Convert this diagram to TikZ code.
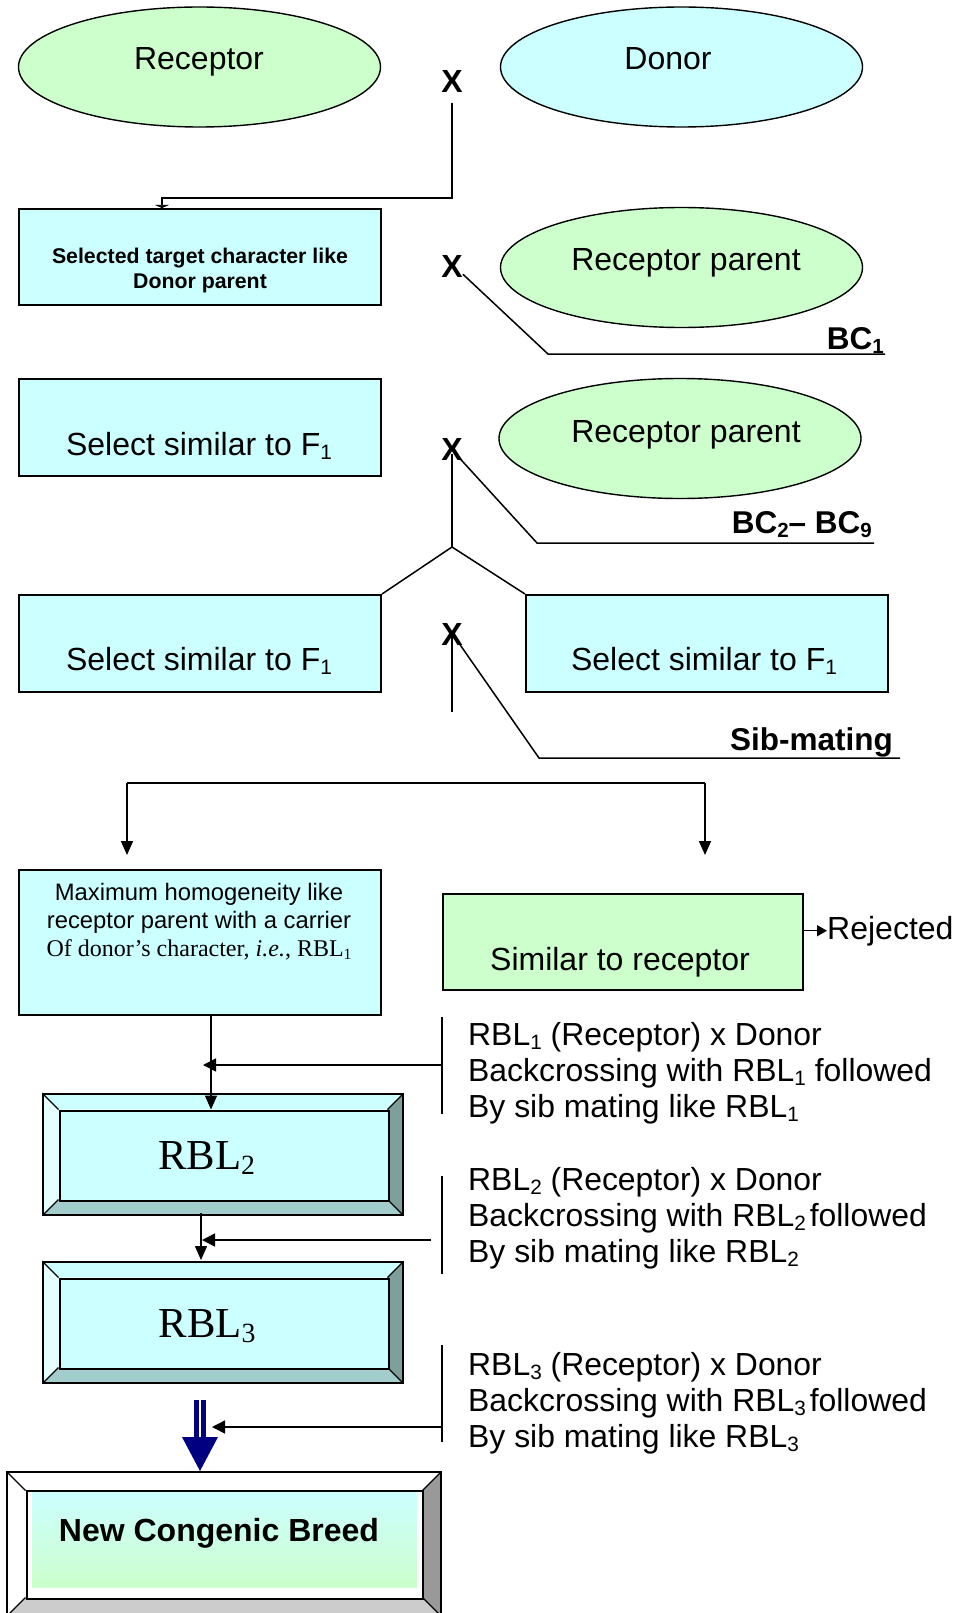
\documentclass[tikz,border=0pt]{standalone}
\usepackage{fontspec}
\usepackage{graphicx}
\usetikzlibrary{arrows.meta,shapes.geometric}
\newfontfamily\ar{Liberation Sans}
\newfontfamily\tm{Liberation Serif}
\newcommand\fBig{\ar\fontsize{32}{36.8}\selectfont}
\newcommand\fBigB{\ar\bfseries\fontsize{31.5}{36}\selectfont}
\newcommand\fX{\ar\bfseries\fontsize{32}{36}\selectfont}
\newcommand\fSmB{\ar\bfseries\fontsize{21.3}{24.5}\selectfont}
\newcommand\fMid{\ar\fontsize{23.8}{27.3}\selectfont}
\newcommand\fMidT{\tm\fontsize{24}{27.6}\selectfont}
\newcommand\fRBL{\tm\fontsize{42.7}{49}\selectfont}
\newcommand\fSide{\ar\fontsize{31.9}{36}\selectfont}
\newcommand\sbs[1]{\raisebox{-0.14em}{\scalebox{0.65}{#1}}}
\definecolor{lgreen}{HTML}{CCFFCC}
\definecolor{lcyan}{HTML}{CCFFFF}
\definecolor{bevleft}{HTML}{E5FFFF}
\definecolor{bevright}{HTML}{7F9F9C}
\definecolor{bevbot}{HTML}{A3CCCC}
\definecolor{gbevright}{HTML}{999999}
\definecolor{gbevbot}{HTML}{CCCCCC}
\definecolor{navyblue}{HTML}{000080}
% bevel frame: x1,y1,x2,y2,b,top,left,right,bottom
\newcommand\bevelframe[9]{%
 \fill[#6] (#1,#2) -- (#3,#2) -- ({#3-#5},{#2+#5}) -- ({#1+#5},{#2+#5}) -- cycle;
 \fill[#7] (#1,#2) -- ({#1+#5},{#2+#5}) -- ({#1+#5},{#4-#5}) -- (#1,#4) -- cycle;
 \fill[#8] (#3,#2) -- (#3,#4) -- ({#3-#5},{#4-#5}) -- ({#3-#5},{#2+#5}) -- cycle;
 \fill[#9] (#1,#4) -- (#3,#4) -- ({#3-#5},{#4-#5}) -- ({#1+#5},{#4-#5}) -- cycle;
 \draw[line width=1.3pt] (#1,#2) -- ({#1+#5},{#2+#5}) (#3,#2) -- ({#3-#5},{#2+#5})
   (#3,#4) -- ({#3-#5},{#4-#5}) (#1,#4) -- ({#1+#5},{#4-#5});
 \draw[line width=2pt] (#1,#2) rectangle (#3,#4);
}
\begin{document}
\begin{tikzpicture}[x=1pt,y=-1pt,
  oval/.style={ellipse, draw, line width=1.4pt, inner sep=0pt, minimum width=362pt, minimum height=120pt},
  cbox/.style={rectangle, draw, line width=2pt, fill=lcyan, inner sep=0pt, anchor=north west},
  txt/.style={inner sep=0pt, anchor=base},
  conn/.style={line width=1.5pt},
  arr/.style={line width=1.5pt, -{Triangle[length=14pt,width=12pt]}},
  harr/.style={line width=1.5pt, -{Triangle[length=13pt,width=13pt]}},
]
\useasboundingbox (0,0) rectangle (955,1613);
\fill[white] (0,0) rectangle (955,1613);

% --- top parents
\node[oval, fill=lgreen] (rec) at (199.5,67) {};
\node[txt, font=\fBig] (rect) at (199,70) {Receptor};
\node[oval, fill=lcyan] (don) at (681.5,67) {};
\node[txt, font=\fBig] (dont) at (668,70) {Donor};
\node[txt, font=\fX] (x1) at (452,93) {X};

% --- F1 box
\node[cbox, minimum width=362pt, minimum height=96pt] (b1) at (18,208) {};
\node[txt, font=\fSmB] (b1a) at (200,263) {Selected target character like};
\node[txt, font=\fSmB] (b1b) at (200,288) {Donor parent};
\coordinate (k1) at (162,198);
\draw[conn, -{Triangle[length=3pt,width=14pt]}] ([yshift=-10pt]x1.base) |- (k1) -- (k1 |- b1.north);

% --- BC1
\node[txt, font=\fX] (x2) at (452,277) {X};
\node[oval, fill=lgreen] (rp1) at (681.5,267.5) {};
\node[txt, font=\fBig] (rp1t) at (686,270.5) {Receptor parent};
\coordinate (bc1a) at (548,354);
\coordinate (bc1b) at (885,354);
\draw[conn] ([yshift=3pt]x2.south east) -- (bc1a) -- (bc1b);
\node[txt, anchor=base east, font=\fBigB] (bc1) at (884,349) {BC\sbs{1}};

% --- BC2-BC9
\node[cbox, minimum width=362pt, minimum height=97pt] (s1) at (18,378) {};
\node[txt, font=\fBig] (s1t) at (199,455) {Select similar to F\sbs{1}};
\node[oval, fill=lgreen] (rp2) at (680,438.5) {};
\node[txt, font=\fBig] (rp2t) at (686,442) {Receptor parent};
\node[txt, font=\fX] (x3) at (452,460) {X};
\coordinate (bc2a) at (537,543);
\coordinate (bc2b) at (874,543);
\draw[conn] ([xshift=-6pt,yshift=5pt]x3.south east) -- (bc2a) -- (bc2b);
\node[txt, anchor=base east, font=\fBigB] (bc2) at (872,533) {BC\sbs{2}– BC\sbs{9}};

\node[cbox, minimum width=362pt, minimum height=97pt] (s2) at (18,594) {};
\node[txt, font=\fBig] (s2t) at (199,670) {Select similar to F\sbs{1}};
\node[cbox, minimum width=362pt, minimum height=97pt] (s3) at (525,594) {};
\node[txt, font=\fBig] (s3t) at (704,670) {Select similar to F\sbs{1}};
\coordinate (br) at (452,547);
\draw[conn] ([yshift=6pt]x3.south) -- (br);
\draw[conn] (s2.north east) -- (br) -- (s3.north west);

% --- sib mating
\node[txt, font=\fX] (x4) at (452,645) {X};
\coordinate (x4b) at (452,712);
\draw[conn] ([yshift=10pt]x4.south) -- (x4b);
\coordinate (sma) at (539,758);
\coordinate (smb) at (900,758);
\draw[conn] ([xshift=-6pt,yshift=5pt]x4.south east) -- (sma) -- (smb);
\node[txt, anchor=base east, font=\fBigB] (sm) at (893,750) {Sib-mating};

% --- split
\coordinate (dl) at (127,783);
\coordinate (dr) at (705,783);
\coordinate (dle) at (127,855);
\coordinate (dre) at (705,855);
\draw[conn] (dl) -- (dr);
\draw[arr] (dl) -- (dle);
\draw[arr] (dr) -- (dre);

\node[cbox, minimum width=362pt, minimum height=145pt] (m) at (18,869) {};
\node[txt, font=\fMid] (m1) at (199,900) {Maximum homogeneity like};
\node[txt, font=\fMid] (m2) at (199,928) {receptor parent with a carrier};
\node[txt, font=\fMidT] (m3) at (199,956) {Of donor’s character, \textit{i.e.}, RBL\sbs{1}};

\node[cbox, fill=lgreen, minimum width=360pt, minimum height=96pt] (g) at (442,893) {};
\node[txt, font=\fBig] (gt) at (620,970) {Similar to receptor};
\node[txt, anchor=base west, font=\fBig] (rej) at (827,939) {Rejected};
\draw[line width=1.5pt, -{Triangle[length=10pt,width=11pt]}] (g.east |- rej.west) -- (rej.west);

% --- RBL boxes
\bevelframe{43}{1094}{403}{1215}{15.5}{lcyan}{bevleft}{bevright}{bevbot}
\node[cbox, minimum width=329pt, minimum height=90pt] (r2) at (58.5,1109.5) {};
\node[txt, font=\fRBL] (r2t) at (206.5,1169) {RBL\sbs{2}};

\bevelframe{43}{1262}{403}{1383}{15.5}{lcyan}{bevleft}{bevright}{bevbot}
\node[cbox, minimum width=329pt, minimum height=90pt] (r3) at (58.5,1277.5) {};
\node[txt, font=\fRBL] (r3t) at (207,1337) {RBL\sbs{3}};

% --- New congenic breed
\bevelframe{7}{1472}{441}{1616}{18.5}{white}{white}{gbevright}{gbevbot}
\node[cbox, fill=white, minimum width=396pt, minimum height=108pt] (ncb) at (26,1490) {};
\shade[top color=lcyan, bottom color=lgreen] (32,1492) rectangle (417,1587);
\node[txt, font=\ar\bfseries\fontsize{32}{36.8}\selectfont] (ncbt) at (219,1541) {New Congenic Breed};

% --- vertical flow arrows
\coordinate (v1) at (211,1014);
\draw[arr] (v1) -- (v1 |- r2.north);
\coordinate (v2) at (201,1213);
\coordinate (v2e) at (201,1260);
\draw[arr] (v2) -- (v2e);

% blue double arrow
\fill[navyblue] (194,1400) rectangle (198.5,1437);
\fill[navyblue] (200.5,1400) rectangle (206,1437);
\fill[navyblue] (182,1437) -- (218,1437) -- (200,1471) -- cycle;

% --- side notes
\coordinate (bar1t) at (442,1017);
\coordinate (bar1b) at (442,1114);
\draw[conn] (bar1t) -- (bar1b);
\coordinate (h1s) at (442,1065);
\coordinate (h1e) at (203,1065);
\draw[harr] (h1s) -- (h1e);
\node[txt, anchor=base west, font=\fSide] (n1a) at (468,1045) {RBL\sbs{1} (Receptor) x Donor};
\node[txt, anchor=base west, font=\fSide] (n1b) at (468,1081) {Backcrossing with RBL\sbs{1} followed};
\node[txt, anchor=base west, font=\fSide] (n1c) at (468,1117) {By sib mating like RBL\sbs{1}};

\coordinate (bar2t) at (442,1176);
\coordinate (bar2b) at (442,1274);
\draw[conn] (bar2t) -- (bar2b);
\coordinate (h2s) at (431,1240);
\coordinate (h2e) at (202,1240);
\draw[harr] (h2s) -- (h2e);
\node[txt, anchor=base west, font=\fSide] (n2a) at (468,1190) {RBL\sbs{2} (Receptor) x Donor};
\node[txt, anchor=base west, font=\fSide] (n2b) at (468,1226) {Backcrossing with RBL\sbs{2}\hspace{0.12em}followed};
\node[txt, anchor=base west, font=\fSide] (n2c) at (468,1262) {By sib mating like RBL\sbs{2}};

\coordinate (bar3t) at (442,1345);
\coordinate (bar3b) at (442,1442);
\draw[conn] (bar3t) -- (bar3b);
\coordinate (h3s) at (442,1427);
\coordinate (h3e) at (212,1427);
\draw[harr] (h3s) -- (h3e);
\node[txt, anchor=base west, font=\fSide] (n3a) at (468,1375) {RBL\sbs{3} (Receptor) x Donor};
\node[txt, anchor=base west, font=\fSide] (n3b) at (468,1411) {Backcrossing with RBL\sbs{3}\hspace{0.12em}followed};
\node[txt, anchor=base west, font=\fSide] (n3c) at (468,1447) {By sib mating like RBL\sbs{3}};
\end{tikzpicture}
\end{document}
